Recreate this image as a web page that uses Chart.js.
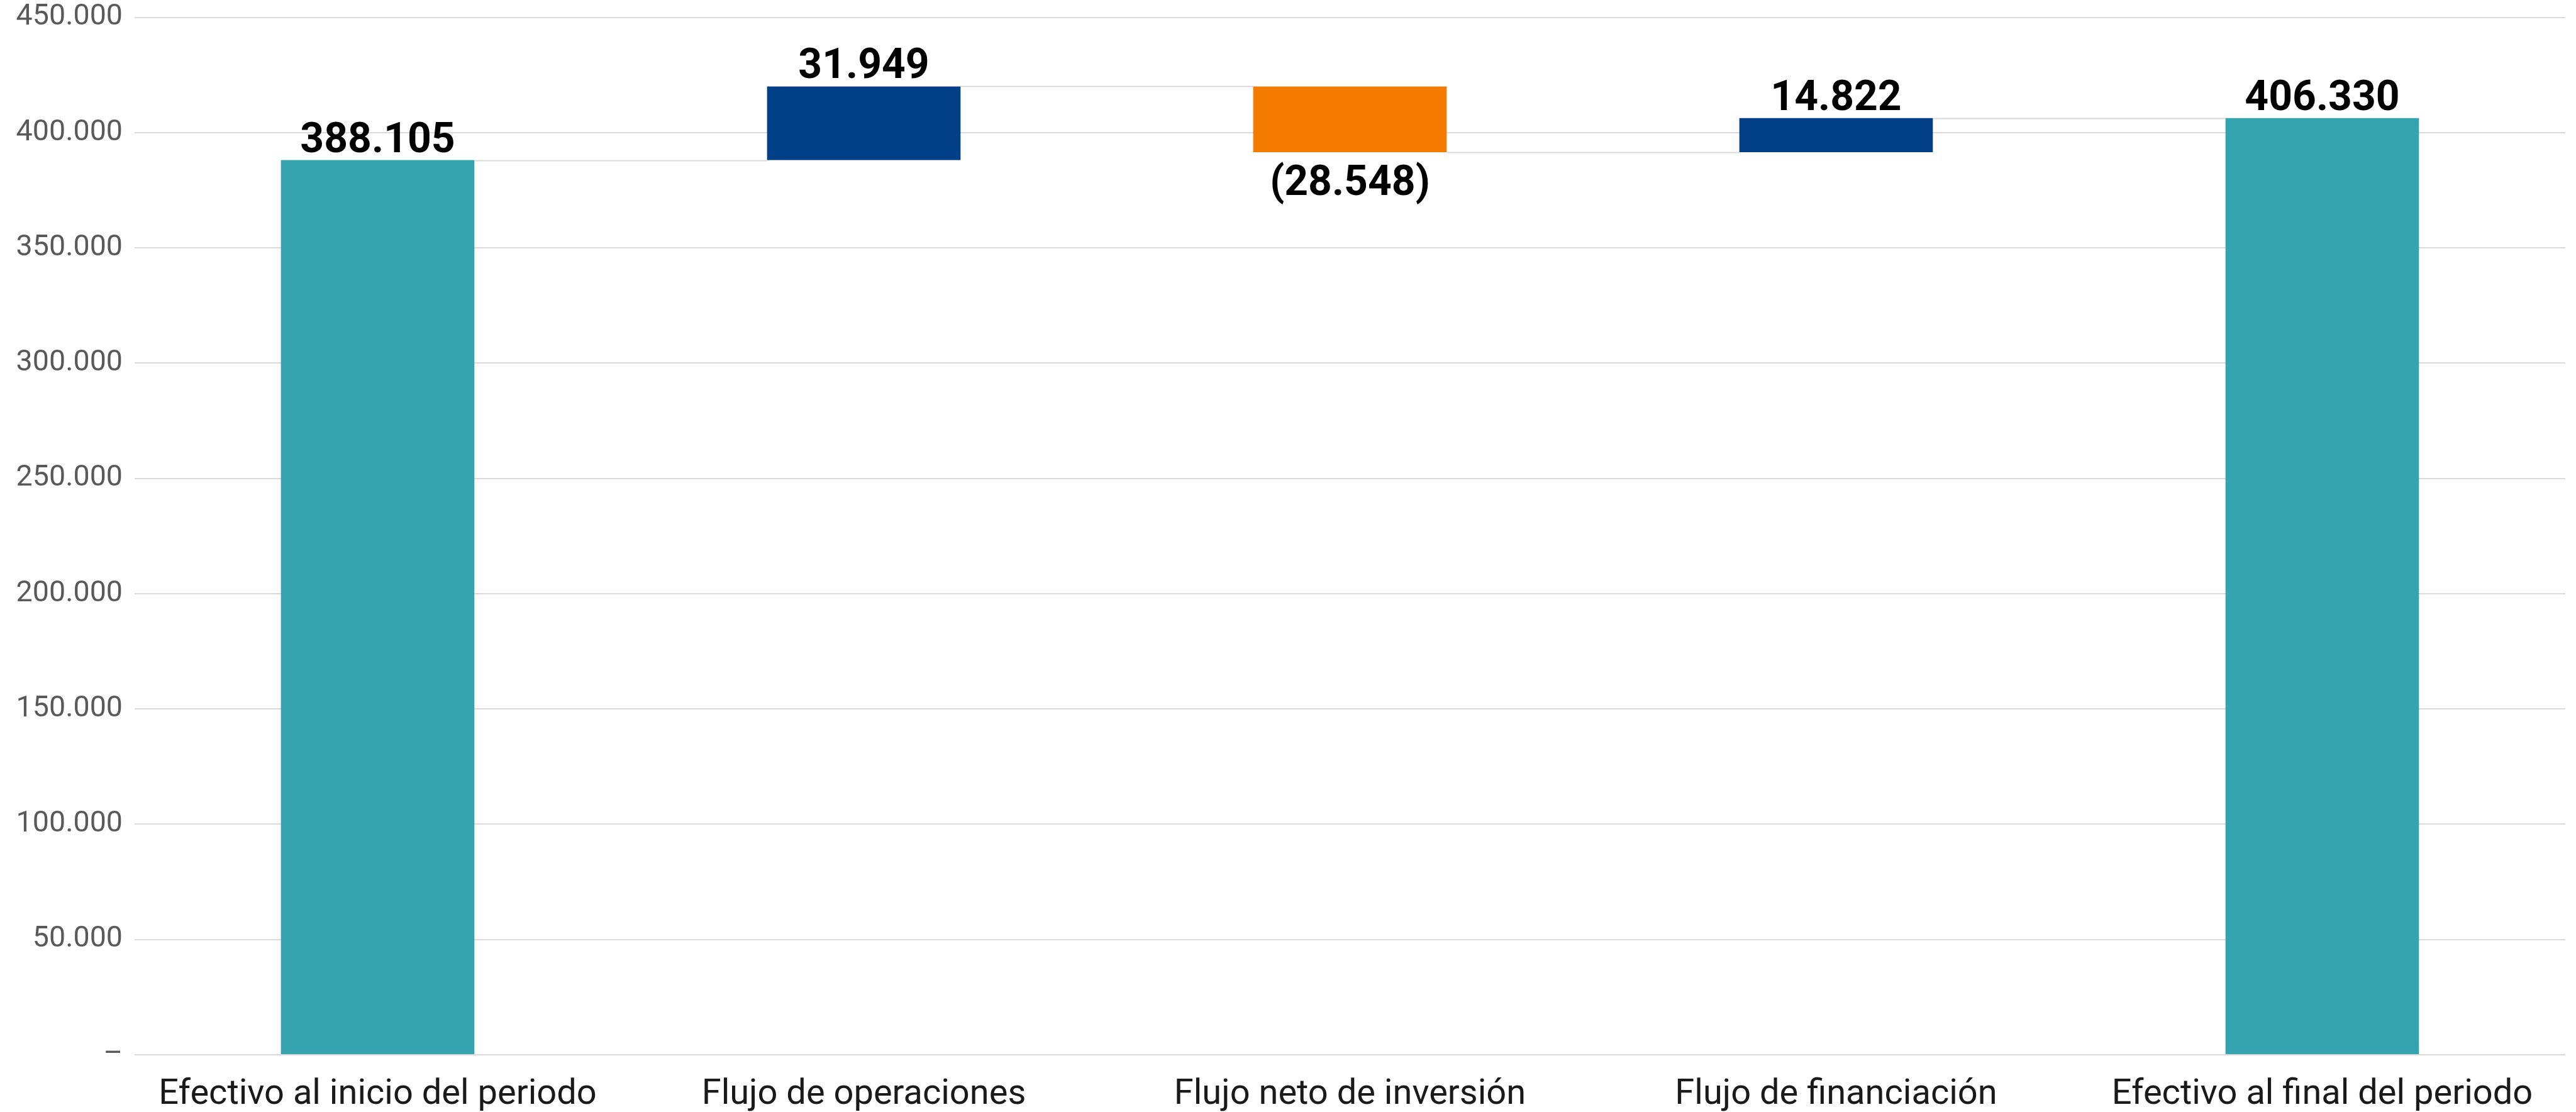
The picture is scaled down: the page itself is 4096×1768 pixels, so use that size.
<!DOCTYPE html>
<html><head><meta charset="utf-8">
<script src="https://cdn.jsdelivr.net/npm/chart.js@4.4.1/dist/chart.umd.min.js"></script>
<style>html,body{margin:0;padding:0;background:#fff;}#wrap{width:4096px;height:1768px;position:relative;}</style>
</head><body><div id="wrap"><canvas id="c"></canvas></div>
<script>
const categories = ["Efectivo al inicio del periodo","Flujo de operaciones","Flujo neto de inversión","Flujo de financiación","Efectivo al final del periodo"];
const values = [388105, 31949, -28548, 14822, 406330];
const kinds = ["total","delta","delta","delta","total"];
const valueLabels = ["388.105","31.949","(28.548)","14.822","406.330"];
const yTicks = [0,50000,100000,150000,200000,250000,300000,350000,400000,450000];
const yTickLabels = ["–","50.000","100.000","150.000","200.000","250.000","300.000","350.000","400.000","450.000"];

const COLORS = {total:"#36A4AF", up:"#013F87", down:"#F47B00"};
let run = 0;
const levels = [];
const ranges = values.map((v,i)=>{
  if (kinds[i]==="total"){ run = v; levels.push(run); return [0, v]; }
  const s = run; run += v; levels.push(run);
  return [Math.min(s,run), Math.max(s,run)];
});
const barColors = values.map((v,i)=> kinds[i]==="total" ? COLORS.total : (v>=0 ? COLORS.up : COLORS.down));

const waterfallPlugin = {
  id:"waterfall",
  beforeDatasetsDraw(chart){
    const ctx = chart.ctx, meta = chart.getDatasetMeta(0), ys = chart.scales.y;
    ctx.save();
    ctx.strokeStyle = "#dadada"; ctx.lineWidth = 2;
    for (let i=0;i<meta.data.length-1;i++){
      const a = meta.data[i], b = meta.data[i+1];
      const y = Math.round(ys.getPixelForValue(levels[i]))+0.5;
      ctx.beginPath();
      ctx.moveTo(a.x + a.width/2, y);
      ctx.lineTo(b.x - b.width/2, y);
      ctx.stroke();
    }
    ctx.restore();
  },
  afterDatasetsDraw(chart){
    const ctx = chart.ctx, meta = chart.getDatasetMeta(0), ys = chart.scales.y;
    ctx.save();
    ctx.font = "bold 66px Roboto";
    ctx.fillStyle = "#000";
    ctx.textAlign = "center";
    ctx.textBaseline = "alphabetic";
    meta.data.forEach((el,i)=>{
      const top = ys.getPixelForValue(ranges[i][1]);
      const bot = ys.getPixelForValue(ranges[i][0]);
      if (values[i] < 0) ctx.fillText(valueLabels[i], el.x, bot + 68);
      else ctx.fillText(valueLabels[i], el.x, top - 13);
    });
    ctx.restore();
  }
};

new Chart(document.getElementById("c"), {
  type:"bar",
  data:{ labels:categories, datasets:[{ data:ranges, backgroundColor:barColors, borderWidth:0, categoryPercentage:1, barPercentage:0.398 }] },
  options:{
    responsive:true, maintainAspectRatio:false, animation:false, devicePixelRatio:1,
    layout:{ padding:{ top:27.7, right:17, left:0, bottom:0 } },
    plugins:{ legend:{display:false}, tooltip:{enabled:false} },
    scales:{
      x:{
        grid:{ display:false }, border:{ display:false },
        ticks:{ color:"#1a1a1a", font:{ family:"Roboto", size:56 }, padding:22, maxRotation:0, autoSkip:false },
        afterFit(s){ s.height = 91; s.paddingLeft = 0; s.paddingRight = 0; }
      },
      y:{
        min:0, max:450000,
        afterBuildTicks(s){ s.ticks = yTicks.map(v=>({value:v})); },
        grid:{ color:"#dadada", lineWidth:2, drawTicks:false },
        border:{ display:false },
        ticks:{ color:"#595959", font:{ family:"Roboto", size:46.6 }, padding:19,
          callback(v){ const k = yTicks.indexOf(v); return k>=0 ? yTickLabels[k] : ""; } },
        afterFit(s){ s.width = 214; s.paddingTop = 0; s.paddingBottom = 0; }
      }
    }
  },
  plugins:[waterfallPlugin]
});
</script></body></html>
